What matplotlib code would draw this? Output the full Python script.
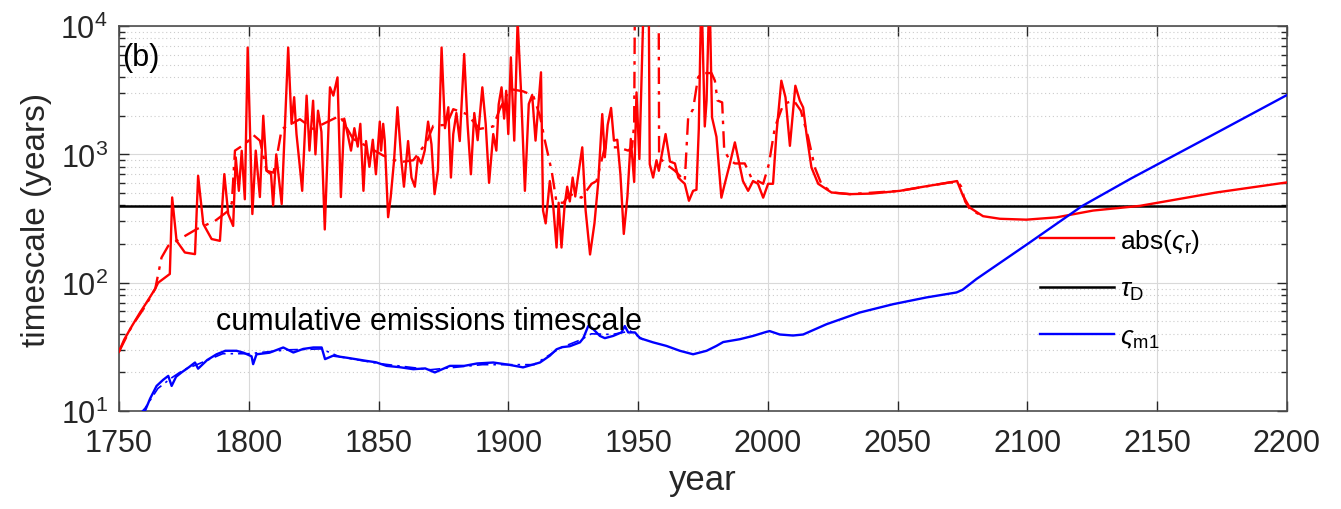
import numpy as np
import matplotlib
matplotlib.use('Agg')
import matplotlib.pyplot as plt
from matplotlib.ticker import LogLocator, NullFormatter

plt.rcParams['font.family'] = ['Liberation Sans', 'DejaVu Sans']
plt.rcParams['mathtext.fontset'] = 'custom'
plt.rcParams['mathtext.rm'] = 'Liberation Sans'
plt.rcParams['mathtext.it'] = 'Liberation Sans:italic'

# abs(sigma_r), solid
red_years = [1750, 1752, 1755, 1758, 1761, 1764, 1765.1, 1769.6, 1770.5, 1772.2, 1775.4, 1779.3,
             1780.5, 1782.5, 1785.7, 1788.9, 1790.6, 1792.1, 1794, 1795, 1796.2, 1797.3, 1798.5,
             1799.6, 1801.4, 1802.7, 1804.3, 1805.6, 1806.9, 1808.6, 1809.4, 1810.6, 1812.7,
             1815.2, 1816.5, 1817.5, 1818.4, 1819.7, 1820.6, 1822.3, 1823.4, 1824.8, 1825.7,
             1826.7, 1828, 1829.3, 1831.3, 1832.6, 1834.2, 1835.5, 1836.8, 1838.1, 1839.4,
             1840.7, 1842, 1843, 1844.2, 1845.2, 1846.5, 1847.8, 1849, 1850.5, 1851, 1851.8,
             1852.4, 1853.7, 1854.7, 1856, 1857.3, 1858.8, 1859.8, 1861.4, 1862.7, 1864, 1865.2,
             1866.5, 1867.8, 1869.1, 1870.4, 1871.6, 1872.9, 1874.3, 1875.6, 1876.9, 1877.9,
             1878.8, 1880, 1881.3, 1883, 1884.3, 1885.6, 1886.9, 1888.2, 1890, 1891.3, 1892.6,
             1894.2, 1895.4, 1896.3, 1897.4, 1898.4, 1899.2, 1900, 1901, 1902.3, 1903.6, 1904.9,
             1906.4, 1907.9, 1909.2, 1910.5, 1912.6, 1913.4, 1914.4, 1916, 1917.3, 1918.6,
             1919.4, 1920.5, 1921.7, 1922.7, 1923.7, 1924.8, 1925.8, 1927, 1928.5, 1929.8,
             1931.5, 1933.2, 1934.7, 1936.2, 1937.2, 1938.3, 1939.6, 1940.7, 1942, 1943.2,
             1944.5, 1945.9, 1947.2, 1948.5, 1949.4, 1950.5, 1952.7, 1954.0, 1954.5, 1955.8,
             1957.1, 1958, 1960.6, 1962.3, 1964.2, 1965.5, 1966.8, 1968, 1969.6, 1971.2, 1972.5,
             1973.4, 1974.4, 1975.7, 1976.4, 1977.5, 1978.5, 1980.2, 1982.1, 1983.4, 1985.4,
             1987.3, 1988.5, 1990.4, 1992.4, 1994.3, 1996.2, 1998.2, 2000.1, 2002, 2003.3,
             2005.2, 2006.8, 2008.5, 2010.6, 2012.3, 2013.6, 2014.9, 2016.8, 2019.4, 2024.5,
             2031.6, 2040, 2050.9, 2060, 2070.1, 2072.9, 2075.2, 2077.8, 2082.9, 2089.4,
             2099.6, 2111.2, 2125.3, 2143.3, 2172.8, 2200]
red_vals = [29, 36, 46, 58, 72, 90, 100, 117, 462, 212, 172, 167,
            681, 287, 219, 212, 702, 343, 277, 948, 520, 1067, 447,
            6800, 343, 1070, 465, 2000, 745, 700, 400, 1000, 410,
            6800, 1730, 2790, 1440, 800, 520, 2870, 1070, 2620, 1000,
            2190, 1500, 260, 3330, 2870, 3980, 465, 1900, 1440, 1070,
            1600, 1150, 1730, 520, 1270, 800, 1300, 700, 1800, 1070, 1730,
            1290, 324, 465, 900, 2330, 900, 560, 1270, 660, 560, 950,
            850, 1070, 1800, 1200, 490, 750, 6800, 1600, 2330, 660,
            1440, 2100, 1270, 6050, 1730, 700, 2100, 1290, 3330, 1730, 600,
            1440, 1070, 2450, 3330, 1900, 3130, 1440, 5700, 1280, 11000, 3130,
            520, 2470, 2900, 1280, 4360, 365, 290, 620, 400, 188,
            420, 188, 400, 560, 430, 660, 470, 700, 1135, 365,
            166, 290, 620, 2060, 950, 1700, 2300, 1280, 1300, 700,
            240, 470, 1320, 610, 3040, 920, 40000, 40000, 840, 660,
            900, 745, 1440, 880, 850, 660, 620, 590, 435, 520, 530,
            1580, 20000, 1650, 2630, 20000, 1940, 1370, 460, 590, 850,
            1240, 950, 620, 520, 620, 590, 460, 590, 590, 1440,
            3750, 2780, 1166, 3425, 2630, 2320, 1440, 790, 590, 505,
            490, 495, 520, 560, 605, 620, 475, 385, 330, 315,
            310, 323, 365, 397, 505, 605]

# abs(sigma_r), dash-dot
red2_years = [1750, 1755, 1760, 1764, 1766.4, 1769, 1774.4, 1780, 1787, 1792.1, 1793.5, 1794.7,
              1799.2, 1801.7, 1804.3, 1806.9, 1809.5, 1810.8, 1812.7, 1814.6, 1819.7, 1824.8,
              1830, 1835.1, 1840.2, 1845.4, 1851.8, 1858.2, 1863.4, 1868.5, 1871.1, 1876.2,
              1878.8, 1884, 1889, 1894.2, 1896.7, 1900.6, 1905.7, 1909.6, 1912.2, 1914.1,
              1916.7, 1918.6, 1921.2, 1923.7, 1928.2, 1932.1, 1934, 1937.2, 1942.3, 1946.2,
              1947.7, 1948.5, 1948.9, 1957.9, 1958.1, 1960.8, 1964.2, 1968, 1969.3, 1971.2,
              1973.1, 1974.4, 1978.3, 1979.6, 1980.6, 1982.4, 1983.2, 1985.4, 1987.3, 1991.1,
              1993.6, 1996.2, 1998.2, 2000.4, 2002.7, 2006, 2010, 2012.7, 2015.5, 2018.1,
              2020.6, 2024.5, 2031.6, 2050.9, 2070.1, 2073.5, 2074.5, 2076, 2078, 2082.9]
red2_vals = [29, 46, 65, 90, 157, 194, 225, 262, 303, 363, 420, 1070,
             1230, 1420, 1280, 745, 720, 950, 1580, 1650, 1880, 1580,
             1780, 2000, 1320, 1160, 980, 870, 900, 1240, 1670, 1700,
             2250, 2060, 1580, 1650, 2250, 3230, 3100, 2870, 2000, 1280,
             745, 420, 420, 490, 460, 590, 620, 1135, 1135, 1070,
             1135, 1730, 40000, 40000, 948, 840, 745, 620, 1940, 2250,
             3970, 4300, 4300, 3750, 2630, 2540, 1070, 900, 850, 850,
             660, 620, 590, 840, 1620, 2470, 2630, 2190, 1370, 790,
             590, 505, 490, 520, 605, 600, 560, 430, 370, 330]

# cumulative emissions timescale sigma_m1
blue_years = [1758, 1760, 1762, 1764.5, 1767, 1769, 1770.3, 1772, 1774.1, 1777, 1779.3, 1780.5,
              1784, 1787.6, 1791, 1795.3, 1798, 1801.1, 1801.7, 1803, 1808, 1813.3, 1817.2,
              1821, 1824.9, 1828.1, 1829.4, 1832.5, 1838, 1845.4, 1849, 1853.1, 1858, 1863.4,
              1868, 1871.7, 1877.5, 1883, 1888, 1894.2, 1900, 1905.7, 1912.2, 1916, 1918.6,
              1920.8, 1923.7, 1927.6, 1928.9, 1930.8, 1932.7, 1935.3, 1937.2, 1940.4, 1943.6,
              1944.9, 1946.2, 1948.8, 1950.7, 1955.8, 1960.9, 1966.1, 1971.2, 1976.4, 1980.2,
              1982.8, 1989.2, 1994.3, 1999.4, 2000.7, 2004.6, 2009.7, 2013.6, 2022.6, 2035.4,
              2048.2, 2061.1, 2072.7, 2075, 2080.4, 2100, 2121, 2140, 2170, 2200]
blue_vals = [9, 10, 12.5, 15.7, 17.5, 18.8, 15.7, 18.5, 20, 22, 23.9, 21.4,
             25, 27.7, 29.5, 29.5, 28.5, 26.7, 23.2, 27.7, 28.5, 31.3, 28.6,
             30.5, 31.3, 31.3, 25.4, 27, 26, 24.6, 24, 22.5, 22, 21.2,
             21.5, 20, 22.5, 22.5, 23.5, 23.9, 23, 21.9, 23.9, 27, 30.3,
             31.5, 32, 34.3, 37, 46, 43.5, 38.5, 37, 38.5, 41,
             46, 41, 41, 37, 34.3, 32.2, 29.5, 27.7, 29.5, 32.2,
             34.5, 36.3, 38.5, 41.4, 42, 39.5, 38.8, 39.5, 47.5, 58.6,
             68, 76.8, 84, 88, 107, 200, 395, 650, 1370, 2900]

blue2_years = [1758, 1760, 1765, 1770, 1775, 1780, 1790, 1800, 1815, 1828, 1835, 1850, 1870,
               1890, 1910, 1920, 1928, 1932, 1940, 1947, 1952]
blue2_vals = [9.5, 10.5, 15, 18, 21, 23, 28, 28, 30, 30.5, 26.5, 23.5, 21,
              23, 23, 31, 36, 40, 39.5, 42, 36]

tau_D = 395
dashdot = (0, (7, 3, 1.5, 3))

fig = plt.figure(figsize=(13.41, 5.10), dpi=100)
ax = fig.add_axes([0.0887, 0.192, 0.871, 0.755])

ax.plot(red_years, red_vals, color='#ff0000', lw=1.7, label=r'abs($\varsigma_{\mathrm{r}}$)', zorder=3)
ax.plot(red2_years, red2_vals, color='#ff0000', lw=1.7, ls=dashdot, zorder=3)
ax.axhline(tau_D, color='black', lw=1.8, label=r'$\tau_{\mathrm{D}}$', zorder=2)
ax.plot(blue_years, blue_vals, color='#0000ff', lw=1.7, label=r'$\varsigma_{\mathrm{m1}}$', zorder=3)
ax.plot(blue2_years, blue2_vals, color='#0000ff', lw=1.2, ls=dashdot, zorder=3)

ax.set_yscale('log')
ax.set_xlim(1750, 2200)
ax.set_ylim(10, 1e4)
ax.set_xticks(np.arange(1750, 2201, 50))
ax.yaxis.set_minor_locator(LogLocator(base=10, subs=np.arange(2, 10)))
ax.yaxis.set_minor_formatter(NullFormatter())

ax.grid(True, which='major', color='#d9d9d9', lw=0.8)
ax.grid(True, which='minor', axis='y', color='#cccccc', lw=0.8, ls=(0, (1, 2.5)))
ax.set_axisbelow(True)

ax.tick_params(which='both', direction='in', top=True, right=True, labelsize=22, colors='#262626')
ax.tick_params(which='major', length=7, width=1)
ax.tick_params(which='minor', length=4, width=1)
ax.tick_params(axis='x', which='major', pad=12)
ax.tick_params(axis='y', which='major', pad=8)
for sp in ax.spines.values():
    sp.set_color('#4d4d4d')
    sp.set_linewidth(1.2)

ax.set_xlabel('year', fontsize=25, color='#262626', labelpad=4)
ax.set_ylabel('timescale (years)', fontsize=24, color='#262626', labelpad=6)

ax.text(1787.5, 43.5, 'cumulative emissions timescale', fontsize=22, va='baseline', ha='left')
ax.text(0.003, 0.958, '(b)', transform=ax.transAxes, fontsize=22, va='top', ha='left')

ax.legend(loc='upper left', bbox_to_anchor=(0.7885, 0.479), frameon=False, fontsize=19,
          handlelength=2.8, handletextpad=0.25, labelspacing=0.85, borderpad=0, borderaxespad=0)

fig.savefig('out.png', dpi=100)
